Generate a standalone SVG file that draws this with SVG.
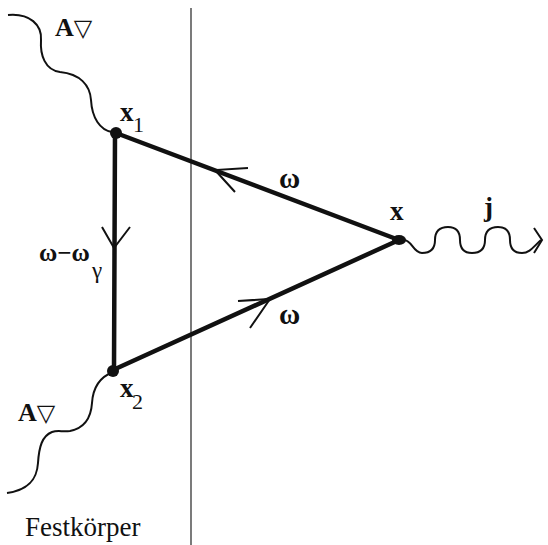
<svg xmlns="http://www.w3.org/2000/svg" width="548" height="545" viewBox="0 0 548 545">
<style>
.edge{stroke:#111;stroke-width:4.5;fill:none;stroke-linecap:round}
.chev{stroke:#111;stroke-width:2;fill:none;stroke-linejoin:miter}
.wave{stroke:#111;stroke-width:2;fill:none}
.sep{stroke:#222;stroke-width:1.2}
text{font-family:'Liberation Serif','DejaVu Serif',serif;fill:#111}
.b{font-weight:bold}
.dot{fill:#111}
</style>
<rect width="548" height="545" fill="#fff"/>
<line class="sep" x1="191" y1="8" x2="191" y2="545"/>
<g id="connectors">
  <line class="edge" x1="116" y1="133" x2="399" y2="240"/>
  <line class="edge" x1="113" y1="370" x2="399" y2="240"/>
  <line class="edge" x1="115" y1="133" x2="114" y2="370"/>
  <polyline class="chev" points="102,227 114,248 130,227"/>
  <polyline class="chev" points="248,168 215,170 235,192"/>
  <polyline class="chev" points="238,301 270,299 250,328"/>
  <path class="wave" d="M8,15 C30,13 42,25 41,40 C40,55 45,70 60,72 C80,74 90,85 91,100 C92,118 100,130 112,132"/>
  <path class="wave" d="M113,372 C100,377 93,387 92,403 C91,418 85,428 70,431 C62,432 58,430 52,432 C42,436 39,447 38,463 C37,478 30,490 7,493"/>
  <path class="wave" d="M404,240 C412,240 413,253 422,253 C431,253 435,248 435,240 C435,232 439,227 448,227 C457,227 460,232 460,240 C460,248 464,253 472,253 C481,253 485,248 485,240 C485,232 489,227 498,227 C507,227 510,232 510,240 C510,248 514,253 522,253 C530,253 534,246 541,240"/>
  <polyline class="chev" points="534,228 542,240 534,253"/>
</g>
<g id="node-x1">
  <circle class="dot" cx="116" cy="133" r="6"/>
  <text class="b" x="120" y="121" font-size="27">x</text>
  <text x="133" y="132" font-size="22">1</text>
</g>
<g id="node-x2">
  <circle class="dot" cx="113" cy="371" r="6"/>
  <text class="b" x="120" y="397" font-size="27">x</text>
  <text x="132" y="409" font-size="22">2</text>
</g>
<g id="node-x">
  <ellipse class="dot" cx="399" cy="240" rx="7" ry="5"/>
  <text class="b" x="390" y="220" font-size="27">x</text>
</g>
<g id="label-j">
  <text class="b" x="484" y="216" font-size="27">j</text>
</g>
<g id="label-A-top">
  <text class="b" x="55" y="36" font-size="26">A<tspan font-family="'DejaVu Sans',sans-serif" font-weight="normal" font-size="24">▽</tspan></text>
</g>
<g id="label-A-bottom">
  <text class="b" x="18" y="421" font-size="26">A<tspan font-family="'DejaVu Sans',sans-serif" font-weight="normal" font-size="24">▽</tspan></text>
</g>
<g id="label-omega-top">
  <text class="b" x="279" y="188" font-size="29">ω</text>
</g>
<g id="label-omega-bottom">
  <text class="b" x="279" y="324" font-size="29">ω</text>
</g>
<g id="label-omega-diff">
  <text class="b" x="39" y="261" font-size="25">ω−ω</text>
  <text x="92" y="278" font-size="23">γ</text>
</g>
<g id="label-festkoerper">
  <text x="25" y="536" font-size="27">Festkörper</text>
</g>
</svg>
